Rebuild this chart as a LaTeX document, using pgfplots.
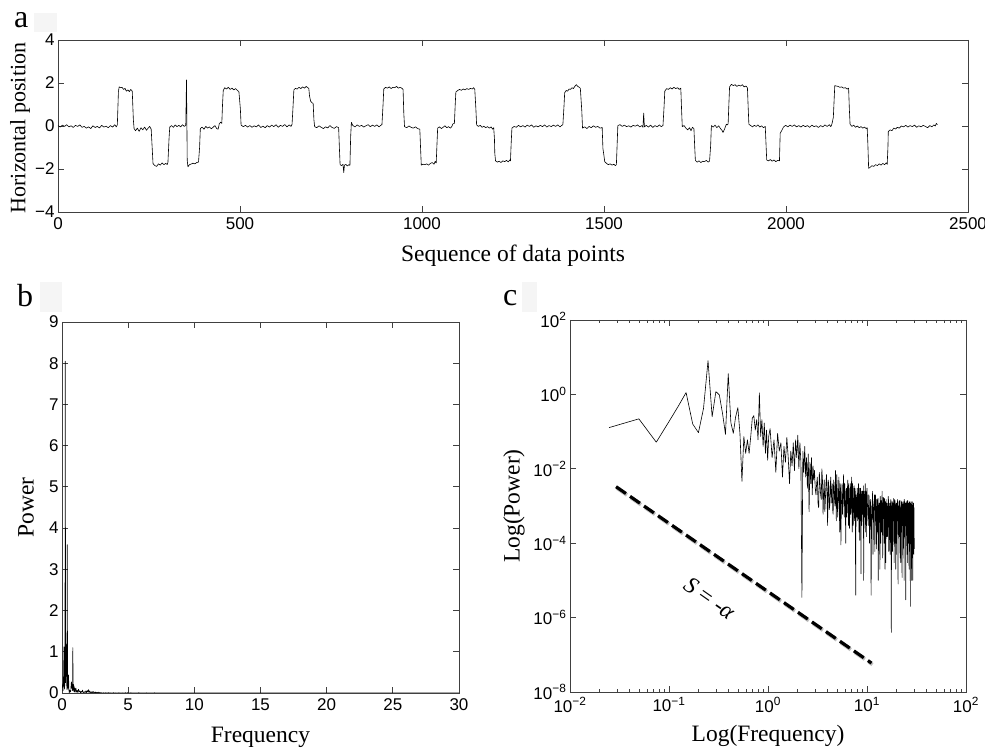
\documentclass[border=0pt]{standalone}
\usepackage{pgfplots}
\usepackage{pgfplotstable}
\pgfplotsset{compat=1.18}
\usepackage{fontspec}
\setmainfont{Liberation Serif}
\setsansfont{Liberation Sans}

\pgfplotstableread{
f p
0.0248 0.128
0.0496 0.22
0.0744 0.052
0.0992 0.18
0.1240 0.48
0.1488 1.12
0.1736 0.16
0.1984 0.094
0.2232 0.42
0.2479 8.05
0.2727 0.25
0.2975 1.19
0.3223 0.97
0.3471 0.31
0.3719 0.085
0.3967 3.6
0.4215 0.175
0.4463 0.09
0.4711 0.25
0.4959 0.44
0.5207 0.09
0.5455 0.0046
0.5703 0.074
0.5950 0.026
0.6198 0.06
0.6446 0.026
0.6694 0.074
0.6942 0.23
0.7190 0.27
0.7438 0.11
0.7686 0.21
0.7934 0.06
0.8182 1.1
0.8430 0.074
0.8678 0.21
0.8926 0.04
0.9174 0.17
0.9421 0.026
0.9669 0.11
0.9917 0.017
1.0165 0.074
1.05 0.12
1.10 0.02
1.15 0.06
1.20 0.008
1.25 0.09
1.30 0.03
1.35 0.05
1.40 0.006
1.45 0.04
1.50 0.015
1.55 0.07
1.60 0.02
1.65 0.004
1.70 0.03
1.75 0.012
1.80 0.05
1.85 0.009
1.90 0.06
1.95 0.02
2.00 0.08
2.05 0.01
2.10 0.05
2.15 0.015
2.20 3.5e-6
2.25 0.03
2.30 0.008
2.35 0.04
2.40 0.006
2.45 0.02
2.50 0.003
2.55 0.025
2.60 0.0007
2.65 0.015
2.70 0.004
2.75 0.02
2.80 0.002
2.85 0.012
2.90 0.005
2.95 0.009
3.00 0.003
3.05 2e-3
3.1 4e-3
3.15 6e-3
3.2 1.2e-3
3.25 9e-4
3.3 8e-3
3.35 4e-3
3.4 2e-3
3.45 1.5e-3
3.5 1e-2
3.55 5e-3
3.6 6e-4
3.65 2.5e-3
3.7 5e-3
3.75 7e-4
3.8 1.5e-3
3.85 4e-3
3.9 7e-3
3.95 1.8e-3
4.0 3e-4
4.05 5e-3
4.1 4e-3
4.15 8e-4
4.2 1e-3
4.25 3e-3
4.3 6e-3
4.35 1.2e-3
4.4 2.5e-3
4.45 4e-3
4.5 8e-4
4.55 6e-4
4.6 5e-3
4.65 3e-3
4.7 1.5e-3
4.75 1e-3
4.8 9e-3
4.85 2e-3
4.9 4e-4
4.95 7e-3
5.0 3e-3
5.05 5e-4
5.1 1e-3
5.15 2.5e-3
5.2 6e-3
5.25 1.2e-3
5.3 2e-4
5.35 4e-3
5.4 3e-3
5.45 9e-5
5.5 8e-4
5.55 2e-3
5.6 4e-3
5.65 6e-4
5.7 1.2e-3
5.75 3e-3
5.8 7e-3
5.85 1.5e-3
5.9 5e-4
5.95 4e-3
6.0 2.5e-3
6.05 7e-4
6.1 1e-4
6.15 2e-3
6.2 3e-3
6.25 5e-4
6.3 9e-4
6.35 3e-3
6.4 5e-3
6.45 1.2e-3
6.5 3e-4
6.55 4e-3
6.6 2e-3
6.65 2.5e-4
6.7 6e-4
6.75 2e-3
6.8 4e-3
6.85 6e-4
6.9 1e-3
6.95 3e-3
7.0 6e-3
7.05 1e-3
7.1 2e-4
7.15 4e-3
7.2 2e-3
7.25 3e-4
7.3 7e-4
7.35 1.5e-3
7.4 3.5e-3
7.45 7e-4
7.5 4e-4
7.55 3e-3
7.6 2.5e-3
7.65 5e-5
7.7 4e-6
7.75 2e-3
7.8 1.5e-3
7.85 9e-4
7.9 5e-4
7.95 3e-3
8.0 3e-3
8.05 4e-4
8.1 1e-3
8.15 1.5e-3
8.2 4e-3
8.25 6e-4
8.3 2e-4
8.35 3e-3
8.4 1.8e-3
8.45 1.2e-4
8.5 6e-4
8.55 2e-3
8.6 3e-3
8.65 8e-4
8.7 1.5e-5
8.75 2.5e-3
8.8 2e-3
8.85 3e-4
8.9 4e-4
8.95 1.5e-3
9.0 2.5e-3
9.05 6e-4
9.1 8e-4
9.15 2e-3
9.2 3.5e-3
9.25 1e-5
9.3 1e-4
9.35 2.5e-3
9.4 1.5e-3
9.45 8e-4
9.5 5e-4
9.55 1.2e-3
9.6 4e-3
9.65 4e-4
9.7 2e-4
9.75 2.5e-3
9.8 2e-3
9.85 1.5e-4
9.9 7e-4
9.95 1.5e-3
10.0 3e-3
10.1 1.2e-3
10.2 5e-4
10.3 3e-4
10.4 2e-3
10.5 1.8e-3
10.6 1e-4
10.7 6e-4
10.8 1.5e-3
10.9 1e-3
11.0 4e-6
11.1 2e-4
11.2 8e-4
11.3 1.4e-3
11.4 2.5e-3
11.5 5e-5
11.6 3e-4
11.7 9e-4
11.8 1.2e-3
11.9 2e-3
12.0 6e-5
12.1 3e-4
12.2 2e-3
12.3 1.1e-3
12.4 5e-4
12.5 7e-5
12.6 1.5e-3
12.7 8e-4
12.8 2e-4
12.9 1.6e-3
13.0 1e-5
13.1 4e-4
13.2 1e-3
13.3 1.2e-3
13.4 3e-4
13.5 2e-5
13.6 1.8e-3
13.7 7e-4
13.8 1e-4
13.9 1.4e-3
14.0 9e-4
14.1 2e-4
14.2 2.5e-3
14.3 1e-3
14.4 4e-5
14.5 6e-4
14.6 1.2e-3
14.7 1.7e-3
14.8 4e-4
14.9 1e-4
15.0 1.6e-3
15.1 9e-4
15.2 2e-5
15.3 1.3e-3
15.4 7e-4
15.5 3e-5
15.6 1.5e-3
15.7 6e-4
15.8 1.5e-4
15.9 1.2e-3
16.0 1e-3
16.1 1.5e-4
16.2 3e-4
16.3 8e-4
16.4 1.8e-3
16.5 1.4e-3
16.6 6e-5
16.7 2e-4
16.8 8e-4
16.9 1e-3
17.0 1.2e-3
17.1 5e-5
17.2 2e-4
17.3 7e-4
17.4 1.5e-3
17.5 1.3e-3
17.6 4e-7
17.7 3e-4
17.8 6e-4
17.9 1e-3
18.0 1.3e-3
18.1 6e-5
18.2 1e-4
18.3 1.2e-3
18.4 9e-4
18.5 4e-4
18.6 1.6e-3
18.7 8e-4
18.8 3e-5
18.9 1.5e-3
19.0 7e-4
19.1 1e-4
19.2 1.4e-3
19.3 9e-4
19.4 2e-4
19.5 2e-5
19.6 1e-3
19.7 1.2e-3
19.8 5e-5
19.9 3e-4
20.0 1.2e-3
20.1 8e-4
20.2 4e-4
20.3 1.3e-3
20.4 1.5e-3
20.5 6e-5
20.6 8e-6
20.7 1e-3
20.8 8e-4
20.9 2e-4
21.0 1.3e-3
21.1 7e-4
21.2 1.5e-4
21.3 1.4e-3
21.4 1e-3
21.5 1e-4
21.6 4e-5
21.7 9e-4
21.8 6e-4
21.9 3e-5
22.0 1.4e-3
22.1 1.1e-3
22.2 2e-4
22.3 4e-4
22.4 9e-4
22.5 1.3e-3
22.6 1.2e-5
22.7 8e-5
22.8 1.1e-3
22.9 7e-4
23.0 3e-4
23.1 1.2e-3
23.2 1.3e-3
23.3 2e-4
23.4 7e-5
23.5 1e-3
23.6 8e-4
23.7 1e-5
23.8 1.5e-3
23.9 8e-4
24.0 1.5e-4
24.1 1.3e-3
24.2 6e-4
24.3 3e-4
24.4 1.2e-3
24.5 9e-4
24.6 3e-6
24.7 5e-5
24.8 1e-3
24.9 1.2e-3
25.0 2.5e-4
25.1 2e-4
25.2 1.3e-3
25.3 7e-4
25.4 5e-5
25.5 1.4e-3
25.6 8e-4
25.7 3e-5
25.8 1.4e-3
25.9 9e-4
26.0 1e-4
26.1 4e-4
26.2 7e-4
26.3 1.1e-3
26.4 1.2e-3
26.5 1.5e-4
26.6 2e-5
26.7 8e-4
26.8 9e-4
26.9 1.3e-3
27.0 3e-4
27.1 6e-5
27.2 1.3e-3
27.3 7e-4
27.4 2e-6
27.5 1.2e-3
27.6 7e-4
27.7 2e-4
27.8 1.1e-3
27.9 9e-4
28.0 1.5e-4
28.1 1e-5
28.2 1.3e-3
28.3 1.1e-3
28.4 4e-5
28.5 3e-4
28.6 8e-4
28.7 1.3e-3
28.8 1e-3
28.9 8e-5
29.0 1e-5
29.1 9e-4
29.2 6e-4
29.3 2e-4
29.4 1.2e-3
29.5 1.2e-3
29.6 1e-4
29.7 5e-5
29.8 9e-4
29.9 8e-4
30.0 7e-5
}\spec

\begin{document}
\begin{tikzpicture}
\path[use as bounding box] (0pt,0pt) rectangle (985pt,749pt);
\pgfplotsset{
  every axis/.append style={
    scale only axis,
    axis line style={black!75, line width=0.8pt},
    every tick/.style={black!75, line width=0.8pt},
    major tick length=6pt,
    minor tick length=3pt,
    tick align=inside,
    tick label style={font=\fontsize{17}{19}\sffamily},
    label style={font=\fontsize{23.5}{26}\selectfont},
    xticklabel style={yshift=-2pt},
    /pgf/number format/assume math mode=true,
    /pgf/number format/1000 sep={},
  }
}
% panel letters
\fill[black!4] (34pt,717pt) rectangle (57pt,736pt);
\node[anchor=base west, inner sep=0pt, font=\fontsize{32}{34}\selectfont] at (14pt,721pt) {a};
\fill[black!4] (40pt,437pt) rectangle (62pt,467pt);
\node[anchor=base west, inner sep=0pt, font=\fontsize{32}{34}\selectfont] at (17pt,442pt) {b};
\fill[black!4] (522pt,437pt) rectangle (537pt,467pt);
\node[anchor=base west, inner sep=0pt, font=\fontsize{32}{34}\selectfont] at (503pt,443pt) {c};

% ---------------- panel a
\begin{axis}[at={(58pt,537pt)}, anchor=south west, width=910pt, height=172pt,
  xmin=0, xmax=2500, ymin=-4, ymax=4,
  xtick={0,500,1000,1500,2000,2500},
  ytick={-4,-2,0,2,4}, yticklabels={−4,−2,0,2,4},
  xlabel={Sequence of data points}, ylabel={Horizontal position},
  xlabel style={at={([yshift=-50pt]axis description cs:0.5,0)}, anchor=base},
  ylabel style={at={([xshift=-38pt,yshift=-2pt]axis description cs:0,0.5)}, anchor=center, font=\fontsize{22}{24}\selectfont}]
\addplot[black, line width=0.6pt, line join=round] coordinates {
(0,0.02)(6,-0.05)(12,0.04)(18,-0.02)(24,0.06)(30,-0.04)(36,0.01)(42,-0.07)(48,0.03)(54,-0.02)(60,0.05)(66,-0.06)(72,-0.02)(78,-0.10)(84,-0.04)(90,-0.12)(96,0.01)(102,-0.07)(108,-0.02)(114,-0.09)(120,0.03)(126,-0.05)(132,-0.01)(138,-0.08)(144,0.02)(150,-0.05)(156,0.06)(160,-0.04)(163,0.05)
(166,1.60)(168,1.82)(172,1.78)(176,1.80)(180,1.70)(184,1.75)(188,1.62)(192,1.68)(196,1.60)(200,1.70)(204,1.62)
(207,0.3)(209,-0.12)(213,-0.22)(218,-0.10)(223,-0.25)(228,-0.08)(233,-0.18)(238,-0.05)(243,-0.20)(248,-0.09)(252,-0.02)(256,-0.15)
(259,-1.10)(261,-1.75)(266,-1.84)(271,-1.88)(276,-1.76)(281,-1.82)(286,-1.72)(291,-1.80)(296,-1.74)(300,-1.79)(302,-1.70)
(305,-0.6)(307,-0.05)(312,0.02)(317,-0.06)(322,0.05)(327,-0.03)(332,0.03)(337,-0.04)(342,0.06)(347,-0.02)(351,0.03)
(353,2.14)(355,-1.60)(357,-1.90)
(361,-1.80)(366,-1.77)(371,-1.73)(376,-1.76)(381,-1.70)(386,-1.68)
(389,-1.0)(391,-0.12)(396,-0.05)(401,-0.15)(406,-0.02)(411,-0.10)(416,-0.04)(421,-0.13)(426,-0.06)(431,0.02)(436,-0.12)(440,-0.15)
(443,0.10)(447,0.18)(450,0.12)
(452,1.0)(454,1.65)(458,1.78)(463,1.72)(468,1.80)(473,1.70)(478,1.76)(483,1.68)(488,1.74)(493,1.65)(497,1.60)
(501,0.8)(503,0.04)(509,-0.03)(515,0.03)(521,-0.05)(527,0.02)(533,-0.06)(539,0.01)(545,-0.04)(551,0.05)(557,-0.07)(563,-0.01)(569,-0.08)(575,0.02)(581,-0.05)(587,0.04)(593,-0.03)(599,0.06)(605,-0.06)(611,0.03)(617,-0.02)(623,0.07)(629,-0.04)(635,0.05)(640,-0.02)(643,0.08)
(646,1.0)(648,1.68)(652,1.75)(657,1.72)(662,1.80)(667,1.74)(672,1.82)(677,1.76)(682,1.84)(686,1.78)(689,1.75)(691,1.40)(694,1.15)(698,1.08)(701,1.05)
(703,0.3)(705,-0.03)(711,-0.08)(717,0.01)(723,-0.06)(729,-0.12)(735,-0.04)(741,-0.09)(747,0.02)(753,-0.07)(759,-0.11)(765,-0.03)(771,-0.08)
(773,-1.0)(775,-1.80)(779,-1.84)(783,-1.78)(785,-2.17)(787,-1.82)(791,-1.79)(795,-1.86)(799,-1.80)(802,-1.83)
(804,-0.5)(806,0.17)(810,0.02)(816,-0.04)(822,0.05)(828,-0.02)(834,0.03)(840,-0.05)(846,0.01)(852,0.06)(858,-0.03)(864,0.04)(870,-0.02)(876,0.05)(882,-0.04)(886,0.02)(890,0.07)
(893,1.0)(895,1.72)(900,1.80)(905,1.76)(910,1.82)(915,1.74)(920,1.80)(925,1.78)(930,1.84)(935,1.76)(940,1.80)(945,1.75)(948,1.70)
(950,0.6)(952,-0.03)(958,-0.08)(964,0.00)(970,-0.06)(976,-0.10)(982,-0.04)(988,-0.12)(994,-0.15)
(996,-1.0)(998,-1.82)(1003,-1.78)(1008,-1.80)(1013,-1.76)(1018,-1.82)(1023,-1.74)(1028,-1.70)(1033,-1.78)(1036,-1.65)(1039,-1.72)
(1041,-0.9)(1043,-0.10)(1048,-0.04)(1053,-0.12)(1058,-0.06)(1063,0.01)(1068,-0.08)(1073,-0.03)(1078,-0.10)(1082,-0.02)(1085,0.10)(1089,0.12)
(1091,0.9)(1093,1.58)(1098,1.65)(1103,1.70)(1108,1.66)(1113,1.72)(1118,1.68)(1123,1.74)(1128,1.70)(1133,1.75)(1138,1.72)(1142,1.78)(1145,1.70)
(1148,0.8)(1150,0.05)(1155,-0.02)(1160,0.03)(1165,-0.06)(1170,-0.01)(1175,-0.08)(1180,-0.03)(1185,-0.10)(1190,-0.04)(1194,-0.15)(1197,-0.08)
(1199,-0.6)(1200,-1.27)(1202,-1.62)(1207,-1.68)(1212,-1.64)(1217,-1.70)(1222,-1.62)(1227,-1.66)(1232,-1.60)(1237,-1.67)(1241,-1.58)(1243,-1.62)
(1245,-0.8)(1247,-0.10)(1253,-0.02)(1259,-0.06)(1265,0.03)(1271,-0.04)(1277,0.02)(1283,-0.05)(1289,0.04)(1295,-0.02)(1301,0.05)(1307,-0.06)(1313,0.01)(1319,-0.04)(1325,0.03)(1331,-0.03)(1337,0.05)(1343,-0.05)(1349,0.02)(1355,-0.03)(1361,0.04)(1367,-0.02)(1373,0.05)(1379,-0.04)(1384,0.03)(1387,0.06)
(1390,0.9)(1392,1.55)(1396,1.65)(1400,1.62)(1404,1.72)(1408,1.70)(1412,1.78)(1416,1.74)(1420,1.85)(1424,1.92)(1428,1.84)(1432,1.80)(1435,1.75)
(1439,0.7)(1441,-0.10)(1447,-0.04)(1453,-0.12)(1459,-0.02)(1465,-0.08)(1471,0.01)(1477,-0.06)(1483,-0.02)(1489,-0.10)(1495,-0.07)
(1497,-1.04)(1500,-1.40)(1502,-1.66)(1507,-1.74)(1512,-1.80)(1517,-1.76)(1522,-1.82)(1527,-1.78)(1531,-1.84)(1534,-1.80)
(1536,-0.9)(1538,0.02)(1544,0.06)(1550,-0.02)(1556,0.04)(1562,-0.03)(1568,0.01)(1574,-0.05)(1580,0.03)(1586,-0.01)(1592,0.05)(1598,-0.04)(1604,0.02)(1607,-0.06)(1609,0.60)(1611,-0.04)(1616,0.03)(1622,-0.05)(1628,0.04)(1634,-0.07)(1640,0.02)(1646,-0.04)(1652,0.05)(1657,-0.03)(1662,0.02)
(1665,0.9)(1667,1.62)(1672,1.74)(1677,1.70)(1682,1.78)(1687,1.72)(1692,1.80)(1697,1.74)(1702,1.78)(1707,1.70)(1711,1.76)
(1713,0.8)(1715,-0.03)(1720,0.02)(1725,-0.10)(1730,-0.18)(1735,-0.08)(1739,-0.22)(1743,-0.06)(1747,-0.12)
(1749,-0.9)(1751,-1.60)(1756,-1.68)(1761,-1.62)(1766,-1.70)(1771,-1.64)(1776,-1.66)(1781,-1.60)(1786,-1.68)(1790,-1.63)
(1793,-0.9)(1795,0.02)(1800,-0.05)(1805,0.04)(1810,-0.08)(1815,0.01)(1820,-0.12)(1824,-0.20)(1827,-0.30)(1831,-0.15)(1836,0.08)(1839,0.05)(1841,0.10)
(1843,1.0)(1845,1.82)(1850,1.94)(1855,1.88)(1860,1.92)(1865,1.84)(1870,1.90)(1875,1.86)(1880,1.92)(1885,1.82)(1890,1.86)(1894,1.78)
(1896,0.9)(1898,0.08)(1903,0.02)(1908,-0.04)(1913,0.03)(1918,-0.02)(1923,0.05)(1928,-0.05)(1933,0.01)(1938,-0.08)(1943,-0.02)
(1945,-0.8)(1947,-1.58)(1952,-1.62)(1957,-1.56)(1962,-1.64)(1967,-1.58)(1972,-1.66)(1977,-1.60)(1982,-1.62)
(1984,-0.34)(1988,-0.22)(1993,-0.05)(1999,0.03)(2005,-0.04)(2011,0.04)(2017,-0.02)(2023,0.05)(2029,-0.04)(2035,0.02)(2041,-0.05)(2047,0.03)(2053,-0.03)(2059,0.02)(2065,-0.06)(2071,0.04)(2077,-0.03)(2083,0.01)(2089,-0.07)(2095,0.02)(2101,-0.04)(2107,0.05)(2113,-0.02)(2119,0.06)(2123,-0.03)(2126,0.08)
(2130,0.4)(2134,1.88)(2138,1.86)(2143,1.84)(2148,1.80)(2153,1.82)(2158,1.76)(2163,1.78)(2168,1.72)(2172,1.76)
(2174,0.8)(2176,0.08)(2181,-0.02)(2186,0.04)(2191,-0.06)(2196,0.00)(2201,-0.08)(2206,-0.03)(2211,-0.10)(2216,-0.05)(2220,-0.12)(2223,-0.08)
(2225,-0.9)(2227,-1.97)(2231,-1.92)(2236,-1.85)(2241,-1.88)(2246,-1.80)(2251,-1.84)(2256,-1.76)(2261,-1.82)(2266,-1.74)(2271,-1.80)(2275,-1.72)(2278,-1.78)
(2280,-1.0)(2281,-0.26)(2286,-0.18)(2291,-0.22)(2296,-0.10)(2301,-0.14)(2306,-0.06)(2311,-0.10)(2317,0.00)(2323,-0.04)(2329,0.03)(2335,-0.05)(2341,0.02)(2347,-0.03)(2353,0.04)(2359,-0.06)(2365,0.01)(2371,-0.04)(2377,0.03)(2383,-0.02)(2389,-0.08)(2395,0.02)(2401,-0.04)(2406,0.05)(2410,0.00)(2413,0.12)(2416,0.06)
};
\end{axis}

% ---------------- panel b
\begin{axis}[at={(62pt,56pt)}, anchor=south west, width=397pt, height=371pt,
  xmin=0, xmax=30, ymin=0, ymax=9,
  xtick={0,5,...,30}, ytick={0,1,...,9},
  xlabel={Frequency}, ylabel={Power},
  xlabel style={at={([yshift=-50pt]axis description cs:0.5,0)}, anchor=base},
  ylabel style={at={([xshift=-36pt]axis description cs:0,0.5)}, anchor=center}]
\addplot[black, line width=0.6pt, line join=round] table[x=f, y=p] {\spec};
\end{axis}

% ---------------- panel c
\begin{axis}[at={(570pt,57pt)}, anchor=south west, width=396pt, height=372pt,
  xmode=log, ymode=log,
  xmin=1e-2, xmax=1e2, ymin=1e-8, ymax=1e2,
  xtick={1e-2,1e-1,1,1e1,1e2},
  xticklabels={10\textsuperscript{−2},10\textsuperscript{−1},10\textsuperscript{0},10\textsuperscript{1},10\textsuperscript{2}},
  minor xtick={0.02,0.03,0.04,0.05,0.06,0.07,0.08,0.09,0.2,0.3,0.4,0.5,0.6,0.7,0.8,0.9,2,3,4,5,6,7,8,9,20,30,40,50,60,70,80,90},
  ytick={1e-8,1e-6,1e-4,1e-2,1,1e2},
  yticklabels={10\textsuperscript{−8},10\textsuperscript{−6},10\textsuperscript{−4},10\textsuperscript{−2},10\textsuperscript{0},10\textsuperscript{2}},
  minor ytick={},
  xlabel={Log(Frequency)}, ylabel={Log(Power)},
  xlabel style={at={([yshift=-49pt]axis description cs:0.5,0)}, anchor=base},
  ylabel style={at={([xshift=-56pt]axis description cs:0,0.5)}, anchor=center}]
\addplot[black, line width=0.6pt, line join=round] table[x=f, y=p] {\spec};
\addplot[black!25, line width=3.6pt, dash pattern=on 12pt off 5pt, shift={(1pt,-1.5pt)}] coordinates {(0.0292,3.3e-3) (11.1,6e-8)};
\addplot[black, line width=3.2pt, dash pattern=on 12pt off 5pt] coordinates {(0.0292,3.3e-3) (11.1,6e-8)};
\node[rotate=-35, font=\fontsize{23.5}{26}\selectfont] at (axis cs:0.26,3.3e-6) {\textit{S} = -\textit{α}};
\end{axis}
\end{tikzpicture}
\end{document}
